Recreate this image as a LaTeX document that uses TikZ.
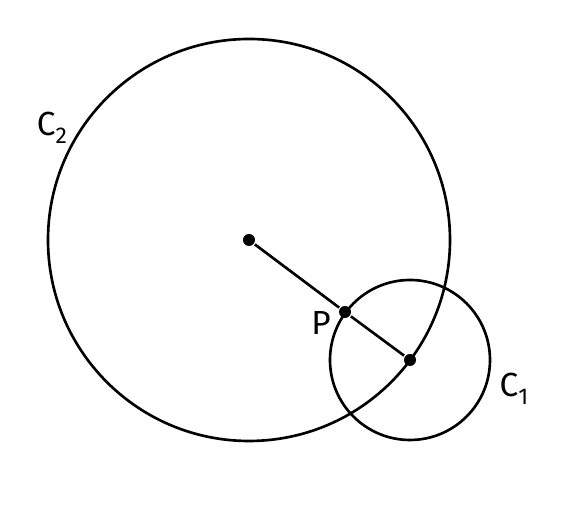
\documentclass[tikz,border=0pt]{standalone}
\usepackage{fontspec}
\setmainfont{Fira Sans}
\usepackage{tikz}

\newcommand{\lowsub}[1]{\raisebox{-0.45ex}{\fontsize{13}{15}\selectfont #1}}

\begin{document}
\begin{tikzpicture}[line width=1.5pt,
    dot/.style={circle, fill, inner sep=0pt, minimum size=2.4mm},
    lbl/.style={inner sep=0pt, font=\fontsize{19}{22}\selectfont}]
     \useasboundingbox (0,0) rectangle (11.22,10.2);

     \node[dot] (O2) at (4.98, 5.40) {};
     \node[dot] (O1) at (8.20, 3.00) {};
     \node[dot] (P) at (6.90, 3.96) {};

     \draw (O2.center) circle (4.02);
     \draw (O1.center) circle (1.60);
     \draw (O2) -- (P);
     \draw (P) -- (O1);

     \node[lbl] (C2) at (1.04, 7.64) {C\lowsub{2}};
     \node[lbl] (Plbl) at (6.42, 3.74) {P};
     \node[lbl] (C1) at (10.28, 2.42) {C\lowsub{1}};
    \end{tikzpicture}
\end{document}
